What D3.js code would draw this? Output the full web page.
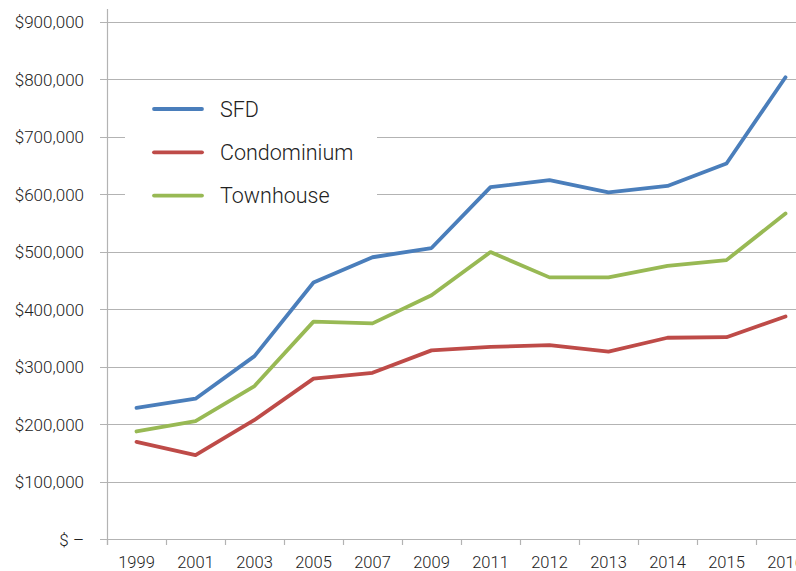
<!DOCTYPE html>
<html>
<head>
<meta charset="utf-8">
<script src="https://cdn.jsdelivr.net/npm/d3@7"></script>
<style>
  html, body { margin: 0; padding: 0; background: #fff; }
  svg { display: block; }
  text { font-family: Roboto, "Liberation Sans", Arial, sans-serif; font-weight: 300; fill: #222; }
</style>
</head>
<body>
<svg id="chart" width="796" height="571"></svg>
<script>
const years = ["1999","2001","2003","2005","2007","2009","2011","2012","2013","2014","2015","2016"];
const sfd = [228000, 244000, 318000, 446000, 490000, 506000, 612000, 624000, 603000, 614000, 653000, 803000];
const condo = [169000, 146000, 207000, 279000, 289000, 328000, 334000, 337000, 326000, 350000, 351000, 387000];
const townhouse = [187000, 205000, 266000, 378000, 375000, 424000, 499000, 455000, 455000, 475000, 485000, 566000];
const yTicks = [0, 100000, 200000, 300000, 400000, 500000, 600000, 700000, 800000, 900000];
const seriesNames = ["SFD", "Condominium", "Townhouse"];
const seriesColors = ["#4a7ebb", "#be4b48", "#98b954"];

const svg = d3.select("#chart");
const left = 107, bottom = 539, top9 = 21.5, bandW = 59;

const x = d3.scaleBand().domain(years).range([left, left + bandW * years.length]).padding(0);
const y = d3.scaleLinear().domain([0, 900000]).range([bottom, top9]);

const fmt = v => v === 0 ? "$ \u2013" : "$" + d3.format(",")(v);

// gridlines
svg.append("g").selectAll("line").data(yTicks.filter(d => d > 0)).join("line")
  .attr("x1", left - 7).attr("x2", 796)
  .attr("y1", d => Math.round(y(d)) + 0.5).attr("y2", d => Math.round(y(d)) + 0.5)
  .attr("stroke", "#b3b3b3").attr("stroke-width", 1.2);

// y axis line
svg.append("line").attr("x1", left + 0.5).attr("x2", left + 0.5)
  .attr("y1", 9).attr("y2", bottom + 6).attr("stroke", "#b3b3b3").attr("stroke-width", 1.2);

// x axis via d3 axis
const xAxis = d3.axisBottom(x).tickSize(0).tickPadding(0);
const gx = svg.append("g").attr("transform", `translate(0,${Math.round(bottom) + 0.5})`).call(xAxis);
gx.select(".domain").attr("stroke", "#b3b3b3").attr("stroke-width", 1.2).attr("d", `M${left - 7},0H796`);
gx.selectAll(".tick text").attr("y", 28.5).attr("dy", 0)
  .style("font-size", "16.5px").style("font-family", "Roboto, 'Liberation Sans', Arial, sans-serif")
  .style("font-weight", 300).attr("fill", "#222");
// band boundary ticks
svg.append("g").selectAll("line").data(years).join("line")
  .attr("x1", d => Math.round(x(d)) + 0.5).attr("x2", d => Math.round(x(d)) + 0.5)
  .attr("y1", bottom).attr("y2", bottom + 6)
  .attr("stroke", "#b3b3b3").attr("stroke-width", 1.2);

// y axis labels
const yAxis = d3.axisLeft(y).tickValues(yTicks).tickFormat(fmt).tickSize(0).tickPadding(0);
const gy = svg.append("g").attr("transform", `translate(84,0)`).call(yAxis);
gy.select(".domain").remove();
gy.selectAll(".tick text").attr("x", 0).attr("dy", "0.36em")
  .style("font-size", "17px").style("font-family", "Roboto, 'Liberation Sans', Arial, sans-serif")
  .style("font-weight", 300).attr("fill", "#222");

// lines
const line = d3.line().x((d, i) => x(years[i]) + x.bandwidth() / 2).y(d => y(d));
[sfd, condo, townhouse].forEach((s, i) => {
  svg.append("path").datum(s).attr("d", line)
    .attr("fill", "none").attr("stroke", seriesColors[i]).attr("stroke-width", 3.8)
    .attr("stroke-linejoin", "round").attr("stroke-linecap", "round");
});

// legend
const lg = svg.append("g");
lg.append("rect").attr("x", 125).attr("y", 86).attr("width", 252).attr("height", 134).attr("fill", "#fff");
seriesNames.forEach((n, i) => {
  const yy = 109 + i * 43.3;
  lg.append("line").attr("x1", 154).attr("x2", 202).attr("y1", yy).attr("y2", yy)
    .attr("stroke", seriesColors[i]).attr("stroke-width", 3.8).attr("stroke-linecap", "round");
  lg.append("text").attr("x", 220).attr("y", yy).attr("dy", "0.36em")
    .style("font-size", "21.5px").text(n);
});
</script>
</body>
</html>
